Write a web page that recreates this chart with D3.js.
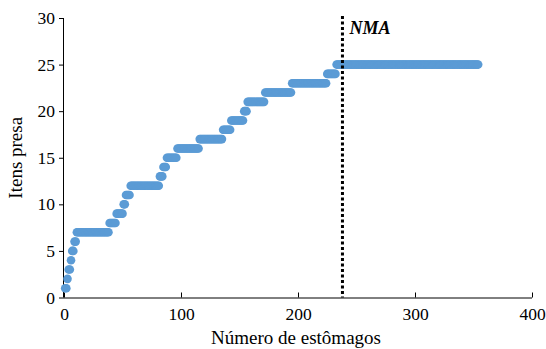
<!DOCTYPE html>
<html><head><meta charset="utf-8">
<script src="https://cdn.jsdelivr.net/npm/d3@7"></script>
<style>body{margin:0;background:#fff}svg{display:block}</style>
</head><body>
<svg id="c" width="546" height="349"></svg>
<script>
// cumulative prey items: level reached and last stomach index at that level
const stepLevels = [1, 2, 3, 4, 5, 6, 7, 8, 9, 10, 11, 12, 13, 14, 15, 16, 17, 18, 19, 20, 21, 22, 23, 24, 25];
const stepEnds   = [2, 3, 5, 6, 8, 10, 38, 44, 50, 52, 56, 81, 84, 87, 96, 115, 135, 142, 153, 156, 171, 194, 224, 232, 354];
const xTicks = [0, 100, 200, 300, 400];
const yTicks = [0, 5, 10, 15, 20, 25, 30];
const nmaX = 238;
const nmaLabel = "NMA";
const xTitle = "Número de estômagos";
const yTitle = "Itens presa";

const points = [];
let start = 1;
stepLevels.forEach((lv, i) => {
  for (let s = start; s <= stepEnds[i]; s++) points.push({x: s, y: lv});
  start = stepEnds[i] + 1;
});

const svg = d3.select("#c");
const x = d3.scaleLinear().domain([0, 400]).range([64, 532]);
const y = d3.scaleLinear().domain([0, 30]).range([297.5, 18]);
const font = "'Liberation Serif','Times New Roman',serif";

// y axis
const ya = svg.append("g").attr("transform", `translate(${x(0)},0)`)
  .call(d3.axisLeft(y).tickValues(yTicks).tickSize(5).tickPadding(4));
ya.select(".domain").attr("stroke", "#000").attr("d", `M-0.5,${y(30)}V${y(0)}`);
ya.selectAll(".tick line").attr("stroke", "#000");
ya.selectAll("text").attr("font-family", font).attr("font-size", 17.5).attr("fill", "#000");

// x axis (ticks inside)
const xa = svg.append("g").attr("transform", `translate(0,${y(0)})`)
  .call(d3.axisBottom(x).tickValues(xTicks).tickSize(-5).tickPadding(10));
xa.select(".domain").attr("stroke", "#000").attr("d", `M${x(0)},0.5H${x(400)}`);
xa.selectAll(".tick line").attr("stroke", "#000");
xa.selectAll("text").attr("font-family", font).attr("font-size", 17.5).attr("fill", "#000");

// points
svg.append("g").selectAll("circle").data(points).join("circle")
  .attr("cx", d => x(d.x)).attr("cy", d => y(d.y)).attr("r", 4.3)
  .attr("fill", "#5b9bd5");

// NMA line
svg.append("line").attr("x1", x(nmaX)).attr("x2", x(nmaX))
  .attr("y1", y(30) - 2).attr("y2", y(0))
  .attr("stroke", "#000").attr("stroke-width", 3).attr("stroke-dasharray", "3,2.5");
svg.append("text").attr("x", x(nmaX) + 7).attr("y", 34)
  .attr("font-family", font).attr("font-size", 18).attr("font-weight", "bold")
  .attr("font-style", "italic").text(nmaLabel);

// titles
svg.append("text").attr("x", 296).attr("y", 344).attr("text-anchor", "middle")
  .attr("font-family", font).attr("font-size", 19).text(xTitle);
svg.append("text").attr("transform", `translate(22,${y(15)}) rotate(-90)`)
  .attr("text-anchor", "middle").attr("font-family", font).attr("font-size", 19).text(yTitle);
</script>
</body></html>
